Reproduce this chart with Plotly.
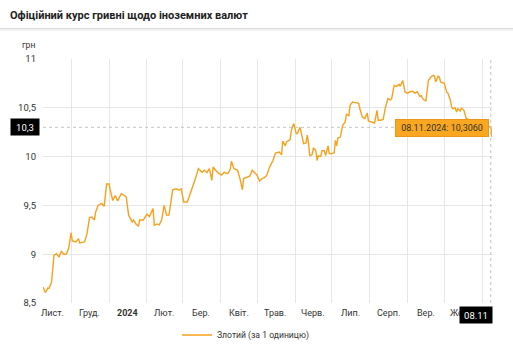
import plotly.graph_objects as go

# ---------------- data ----------------
dates = [
    "2023-11-08", "2023-11-10", "2023-11-12", "2023-11-13", "2023-11-15", "2023-11-17", "2023-11-19",
    "2023-11-21", "2023-11-23", "2023-11-25", "2023-11-27", "2023-11-29", "2023-12-01", "2023-12-02",
    "2023-12-05", "2023-12-07", "2023-12-08", "2023-12-12", "2023-12-14", "2023-12-16", "2023-12-18",
    "2023-12-20", "2023-12-21", "2023-12-23", "2023-12-26", "2023-12-28", "2023-12-30", "2024-01-01",
    "2024-01-02", "2024-01-04", "2024-01-06", "2024-01-08", "2024-01-11", "2024-01-13", "2024-01-15",
    "2024-01-17", "2024-01-20", "2024-01-21", "2024-01-23", "2024-01-25", "2024-01-26", "2024-01-29",
    "2024-02-01", "2024-02-03", "2024-02-06", "2024-02-07", "2024-02-09", "2024-02-11", "2024-02-13",
    "2024-02-15", "2024-02-17", "2024-02-19", "2024-02-22", "2024-02-25", "2024-02-27", "2024-02-29",
    "2024-03-02", "2024-03-05", "2024-03-08", "2024-03-09", "2024-03-12", "2024-03-14", "2024-03-17",
    "2024-03-19", "2024-03-21", "2024-03-23", "2024-03-25", "2024-03-26", "2024-03-28", "2024-03-31",
    "2024-04-02", "2024-04-04", "2024-04-07", "2024-04-09", "2024-04-10", "2024-04-12", "2024-04-15",
    "2024-04-17", "2024-04-19", "2024-04-20", "2024-04-23", "2024-04-25", "2024-04-27", "2024-04-29",
    "2024-05-01", "2024-05-03", "2024-05-05", "2024-05-07", "2024-05-09", "2024-05-11", "2024-05-14",
    "2024-05-16", "2024-05-19", "2024-05-21", "2024-05-22", "2024-05-24", "2024-05-25", "2024-05-28",
    "2024-05-29", "2024-05-31", "2024-06-01", "2024-06-02", "2024-06-03", "2024-06-05", "2024-06-06",
    "2024-06-08", "2024-06-10", "2024-06-11", "2024-06-12", "2024-06-13", "2024-06-15", "2024-06-16",
    "2024-06-18", "2024-06-19", "2024-06-20", "2024-06-22", "2024-06-23", "2024-06-25", "2024-06-26",
    "2024-06-28", "2024-06-29", "2024-07-01", "2024-07-03", "2024-07-04", "2024-07-05", "2024-07-06",
    "2024-07-08", "2024-07-10", "2024-07-12", "2024-07-13", "2024-07-15", "2024-07-16", "2024-07-18",
    "2024-07-21", "2024-07-23", "2024-07-24", "2024-07-26", "2024-07-28", "2024-07-30", "2024-07-31",
    "2024-08-02", "2024-08-04", "2024-08-05", "2024-08-07", "2024-08-08", "2024-08-10", "2024-08-12",
    "2024-08-14", "2024-08-16", "2024-08-18", "2024-08-19", "2024-08-21", "2024-08-23", "2024-08-25",
    "2024-08-26", "2024-08-28", "2024-08-29", "2024-08-30", "2024-09-01", "2024-09-03", "2024-09-05",
    "2024-09-07", "2024-09-09", "2024-09-11", "2024-09-12", "2024-09-14", "2024-09-16", "2024-09-17",
    "2024-09-18", "2024-09-20", "2024-09-22", "2024-09-23", "2024-09-24", "2024-09-26", "2024-09-27",
    "2024-09-28", "2024-09-30", "2024-10-01", "2024-10-03", "2024-10-04", "2024-10-06", "2024-10-07",
    "2024-10-08", "2024-10-10", "2024-10-11", "2024-10-12", "2024-10-14", "2024-10-15", "2024-10-17",
    "2024-10-18", "2024-10-19", "2024-10-23", "2024-10-26", "2024-10-30", "2024-11-03", "2024-11-06",
    "2024-11-08", "2024-11-09",
]
rates = [
    8.664, 8.607, 8.654, 8.650, 8.715, 8.990, 9.006,
    8.970, 9.030, 9.000, 9.000, 9.060, 9.220, 9.135,
    9.125, 9.160, 9.115, 9.125, 9.210, 9.375, 9.380,
    9.350, 9.430, 9.500, 9.520, 9.490, 9.720, 9.720,
    9.655, 9.550, 9.600, 9.545, 9.620, 9.605, 9.590,
    9.400, 9.330, 9.350, 9.310, 9.286, 9.350, 9.350,
    9.410, 9.385, 9.467, 9.296, 9.310, 9.300, 9.350,
    9.500, 9.400, 9.400, 9.660, 9.670, 9.655, 9.670,
    9.535, 9.535, 9.640, 9.670, 9.790, 9.877, 9.840,
    9.860, 9.835, 9.877, 9.757, 9.893, 9.860, 9.826,
    9.810, 9.840, 9.826, 9.867, 9.952, 9.877, 9.860,
    9.775, 9.660, 9.775, 9.790, 9.800, 9.860, 9.840,
    9.810, 9.750, 9.775, 9.785, 9.810, 9.887, 9.960,
    10.037, 10.047, 10.020, 10.160, 10.110, 10.150, 10.174,
    10.270, 10.338, 10.290, 10.236, 10.236, 10.300, 10.250,
    10.133, 10.140, 10.220, 10.140, 10.010, 10.020, 10.090,
    10.060, 9.960, 10.010, 10.000, 10.060, 10.060, 10.010,
    10.110, 10.030, 10.030, 10.040, 10.167, 10.110, 10.190,
    10.200, 10.320, 10.355, 10.433, 10.420, 10.525, 10.560,
    10.550, 10.545, 10.490, 10.406, 10.390, 10.447, 10.365,
    10.355, 10.344, 10.344, 10.474, 10.372, 10.372, 10.380,
    10.510, 10.594, 10.580, 10.594, 10.730, 10.720, 10.740,
    10.720, 10.780, 10.720, 10.660, 10.650, 10.665, 10.670,
    10.650, 10.665, 10.618, 10.625, 10.584, 10.570, 10.665,
    10.780, 10.815, 10.833, 10.825, 10.764, 10.825, 10.815,
    10.764, 10.755, 10.750, 10.660, 10.650, 10.577, 10.508,
    10.490, 10.497, 10.457, 10.490, 10.467, 10.497, 10.474,
    10.423, 10.390, 10.370, 10.350, 10.330, 10.320, 10.310,
    10.306, 10.200,
]

series_name = "Злотий (за 1 одиницю)"
title_text = "Офіційний курс гривні щодо іноземних валют"
y_unit = "грн"

x_range = ["2023-11-08", "2024-11-09"]
y_range = [8.5, 11]
y_ticks = [8.5, 9, 9.5, 10, 10.5, 11]

month_starts = ["2023-12-01", "2024-01-01", "2024-02-01", "2024-03-01", "2024-04-01", "2024-05-01",
                "2024-06-01", "2024-07-01", "2024-08-01", "2024-09-01", "2024-10-01", "2024-11-01"]
month_mids = ["2023-11-16", "2023-12-16", "2024-01-16", "2024-02-15", "2024-03-16", "2024-04-16",
              "2024-05-16", "2024-06-16", "2024-07-16", "2024-08-16", "2024-09-16", "2024-10-16"]
month_labels = ["Лист.", "Груд.", "<b>2024</b>", "Лют.", "Бер.", "Квіт.", "Трав.", "Черв.",
                "Лип.", "Серп.", "Вер.", "Жовт."]

hover_date = "2024-11-08"
hover_date_label = "08.11.2024"
hover_date_short = "08.11"
hover_value = 10.3060
cross_y = 10.3

# ---------------- style ----------------
FONT = "Roboto, Arial, sans-serif"
LINE_COLOR = "#f8a11c"
TEXT = "#333333"
GRID = "#e6e6e6"

fig = go.Figure()
fig.add_trace(go.Scatter(
    x=dates, y=rates, mode="lines", name=series_name,
    line=dict(color=LINE_COLOR, width=1.4),
    showlegend=True, hoverinfo="skip",
))

fig.update_layout(
    width=513, height=350,
    margin=dict(l=43, r=21, t=59, b=47, autoexpand=False),
    paper_bgcolor="white", plot_bgcolor="white",
    separators=", ",
    font=dict(family=FONT, size=10, color=TEXT),
    title=dict(text="<b>" + title_text + "</b>", xref="container", yref="container",
               x=10 / 513, xanchor="left", y=1 - 15 / 350, yanchor="middle",
               font=dict(family=FONT, size=11, color="#222222")),
    showlegend=True,
    legend=dict(orientation="h", xref="container", x=177 / 513, xanchor="left",
                yref="container", y=15 / 350, yanchor="middle",
                font=dict(family=FONT, size=8.6, color=TEXT), bgcolor="rgba(0,0,0,0)"),
    xaxis=dict(type="date", range=x_range, tickvals=month_starts, showticklabels=False,
               showgrid=True, gridcolor=GRID, gridwidth=1, zeroline=False,
               showline=False, ticks="", fixedrange=True),
    yaxis=dict(range=y_range, tickvals=y_ticks, showgrid=True, gridcolor=GRID, gridwidth=1,
               zeroline=False, showline=False, ticks="", ticklabelstandoff=6,
               tickfont=dict(family=FONT, size=9.5, color=TEXT), fixedrange=True),
)

# month labels centred in each month
for xm, lab in zip(month_mids, month_labels):
    fig.add_annotation(x=xm, xref="x", y=0, yref="paper", yanchor="top", yshift=-3,
                       text=lab, showarrow=False,
                       font=dict(family=FONT, size=9, color=TEXT))

# unit label
fig.add_annotation(x=-0.032, xref="paper", y=1.056, yref="paper", text=y_unit,
                   xanchor="center", yanchor="middle",
                   showarrow=False, font=dict(family=FONT, size=8.6, color=TEXT))

# separator under the title
fig.add_shape(type="line", xref="paper", yref="paper", x0=-0.1, x1=1.06,
              y0=1.1238, y1=1.1238, line=dict(color="#dcdcdc", width=1.5))
fig.add_shape(type="line", xref="paper", yref="paper", x0=-0.1, x1=1.06,
              y0=1.118, y1=1.118, line=dict(color="#f2f2f2", width=1.5))

# crosshair lines
fig.add_shape(type="line", xref="x", yref="y", x0=x_range[0], x1=hover_date,
              y0=cross_y, y1=cross_y, line=dict(color="#c4c4c4", width=1, dash="dot"))
fig.add_shape(type="line", xref="x", yref="paper", x0=hover_date, x1=hover_date,
              y0=0, y1=1, line=dict(color="#c4c4c4", width=1, dash="dot"))

# tooltip
value_text = f"{hover_value:.4f}".replace(".", ",")
fig.add_annotation(x=hover_date, xref="x", y=hover_value, yref="y",
                   xanchor="right", yanchor="middle", xshift=-2, yshift=-1,
                   text=f"{hover_date_label}: {value_text}",
                   showarrow=False, bgcolor="#f9a720", bordercolor="#e9961a", borderwidth=1,
                   borderpad=3, width=86, font=dict(family=FONT, size=9, color="#333333"))

# y crosshair label
fig.add_annotation(x=0, xref="paper", y=cross_y, yref="y", xanchor="right", yanchor="middle",
                   xshift=-3, text=f"{cross_y:.1f}".replace(".", ","), showarrow=False,
                   bgcolor="#000000", width=24, height=12, borderpad=2,
                   font=dict(family=FONT, size=9.5, color="white"))

# x crosshair label
fig.add_annotation(x=hover_date, xref="x", y=0, yref="paper", xanchor="right", yanchor="top",
                   xshift=2, yshift=-3, text=hover_date_short, showarrow=False,
                   bgcolor="#000000", width=28, height=12, borderpad=2,
                   font=dict(family=FONT, size=9.5, color="white"))

fig.write_html("out.html")
